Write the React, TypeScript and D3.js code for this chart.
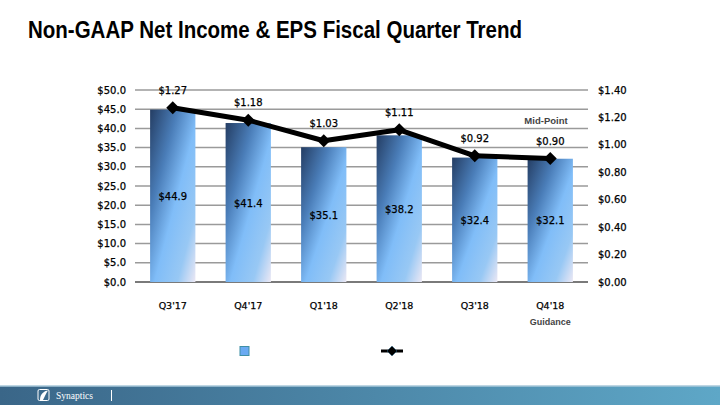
import React from "react";
import * as d3 from "d3";

const categories = ["Q3'17", "Q4'17", "Q1'18", "Q2'18", "Q3'18", "Q4'18"];
const netIncome = [44.9, 41.4, 35.1, 38.2, 32.4, 32.1];
const eps = [1.27, 1.18, 1.03, 1.11, 0.92, 0.9];
const leftTicks = [0, 5, 10, 15, 20, 25, 30, 35, 40, 45, 50];
const rightTicks = [0, 0.2, 0.4, 0.6, 0.8, 1.0, 1.2, 1.4];

const W = 720;
const H = 405;
const plotL = 135;
const plotR = 588;
const plotT = 90;
const plotB = 282;
const axisFont = "'DejaVu Sans', Verdana, sans-serif";

export default function App() {
  const x = d3
    .scaleBand<string>()
    .domain(categories)
    .range([plotL, plotR])
    .paddingInner(0.4)
    .paddingOuter(0.2);
  const yL = d3.scaleLinear().domain([0, 50]).range([plotB, plotT]);
  const yR = d3.scaleLinear().domain([0, 1.4]).range([plotB, plotT]);
  const cx = (c: string) => (x(c) ?? 0) + x.bandwidth() / 2;

  const line = d3
    .line<number>()
    .x((_, i) => cx(categories[i]))
    .y((d) => yR(d));

  const diamond = (px: number, py: number, r: number) =>
    `M${px},${py - r}L${px + r},${py}L${px},${py + r}L${px - r},${py}Z`;

  const txt = { fontFamily: axisFont, fontSize: 10, fill: "#000", stroke: "#000", strokeWidth: 0.25 };

  return (
    <div style={{ position: "absolute", left: 0, top: 0 }}>
      <svg width={W} height={H} style={{ display: "block" }}>
        <defs>
          <linearGradient id="barGrad" x1="0" y1="0" x2="1" y2="1">
            <stop offset="0" stopColor="#243d63" />
            <stop offset="0.3" stopColor="#4a7db8" />
            <stop offset="0.55" stopColor="#80bdf8" />
            <stop offset="0.8" stopColor="#98c8f4" />
            <stop offset="1" stopColor="#ece8f4" />
          </linearGradient>
          <linearGradient id="footGrad" x1="0" y1="0" x2="1" y2="0">
            <stop offset="0" stopColor="#3a6688" />
            <stop offset="1" stopColor="#5ea7c7" />
          </linearGradient>
        </defs>
        <rect x={0} y={0} width={W} height={H} fill="#fff" />

        {/* Title */}
        <text
          x={28}
          y={38}
          fontFamily="'Liberation Sans Narrow', 'Arial Narrow', 'Liberation Sans', Arial, sans-serif"
          fontWeight="bold"
          fontSize={23}
          textLength={494}
          lengthAdjust="spacingAndGlyphs"
          fill="#000"
        >
          Non-GAAP Net Income &amp; EPS Fiscal Quarter Trend
        </text>

        {/* Gridlines */}
        {leftTicks.map((t) => (
          <line
            key={"g" + t}
            x1={plotL}
            x2={plotR}
            y1={yL(t)}
            y2={yL(t)}
            stroke={t === 0 ? "#7a7a7a" : "#9a9a9a"}
            strokeWidth={t === 0 ? 2 : 1.5}
          />
        ))}

        {/* Left axis labels */}
        {leftTicks.map((t) => (
          <text key={"l" + t} x={126} y={yL(t) + 3.5} textAnchor="end" {...txt}>
            {"$" + t.toFixed(1)}
          </text>
        ))}

        {/* Right axis labels */}
        {rightTicks.map((t) => (
          <text key={"r" + t} x={598} y={yR(t) + 3.5} textAnchor="start" {...txt}>
            {"$" + t.toFixed(2)}
          </text>
        ))}

        {/* Bars */}
        {netIncome.map((v, i) => (
          <rect
            key={"b" + i}
            x={x(categories[i])}
            y={yL(v)}
            width={x.bandwidth()}
            height={yL(0) - yL(v)}
            fill="url(#barGrad)"
          />
        ))}

        {/* Bar labels */}
        {netIncome.map((v, i) => (
          <text
            key={"bl" + i}
            x={cx(categories[i])}
            y={(yL(v) + yL(0)) / 2 + 4}
            textAnchor="middle"
            {...txt}
          >
            {"$" + v.toFixed(1)}
          </text>
        ))}

        {/* EPS line */}
        <path d={line(eps) ?? ""} fill="none" stroke="#000" strokeWidth={5} strokeLinejoin="round" />
        {eps.map((v, i) => (
          <path key={"m" + i} d={diamond(cx(categories[i]), yR(v), 6.5)} fill="#000" />
        ))}
        {eps.map((v, i) => (
          <text key={"el" + i} x={cx(categories[i])} y={yR(v) - 14} textAnchor="middle" {...txt}>
            {"$" + v.toFixed(2)}
          </text>
        ))}

        <text
          x={546}
          y={124}
          textAnchor="middle"
          fontFamily="'Liberation Sans', Arial, sans-serif"
          fontWeight="bold"
          fontSize={9.5}
          fill="#444"
        >
          Mid-Point
        </text>

        {/* Category labels */}
        {categories.map((c) => (
          <text key={"c" + c} x={cx(c)} y={309} textAnchor="middle" {...txt} fontSize={9.5}>
            {c}
          </text>
        ))}
        <text
          x={cx(categories[5])}
          y={325}
          textAnchor="middle"
          fontFamily="'Liberation Sans', Arial, sans-serif"
          fontWeight="bold"
          fontSize={9}
          fill="#444"
        >
          Guidance
        </text>

        {/* Legend */}
        <rect x={240} y={346.5} width={9} height={9} fill="#6aaaf2" stroke="#3f8fa6" strokeWidth={1} />
        <line x1={381} x2={403} y1={351} y2={351} stroke="#000" strokeWidth={3} />
        <path d={diamond(392, 351, 5)} fill="#000" stroke="#2a6a90" strokeWidth={0.5} />

        {/* Footer */}
        <rect x={0} y={386} width={W} height={19} fill="url(#footGrad)" />
        <line x1={0} x2={W} y1={386} y2={386} stroke="#a9c9da" strokeWidth={1.5} />
        <rect x={38} y={389.5} width={11} height={11} rx={1.5} fill="none" stroke="#fff" strokeWidth={1} />
        <path d="M40,400 C40,394 44,391 48,390.5 C46,393.5 44.5,397 43,400 Z" fill="#fff" />
        <text
          x={56}
          y={399}
          fontFamily="'Liberation Serif', 'DejaVu Serif', serif"
          fontSize={9.5}
          fill="#fff"
        >
          Synaptics
        </text>
        <line x1={111.5} x2={111.5} y1={390} y2={401} stroke="#fff" strokeWidth={1} />
      </svg>
    </div>
  );
}
